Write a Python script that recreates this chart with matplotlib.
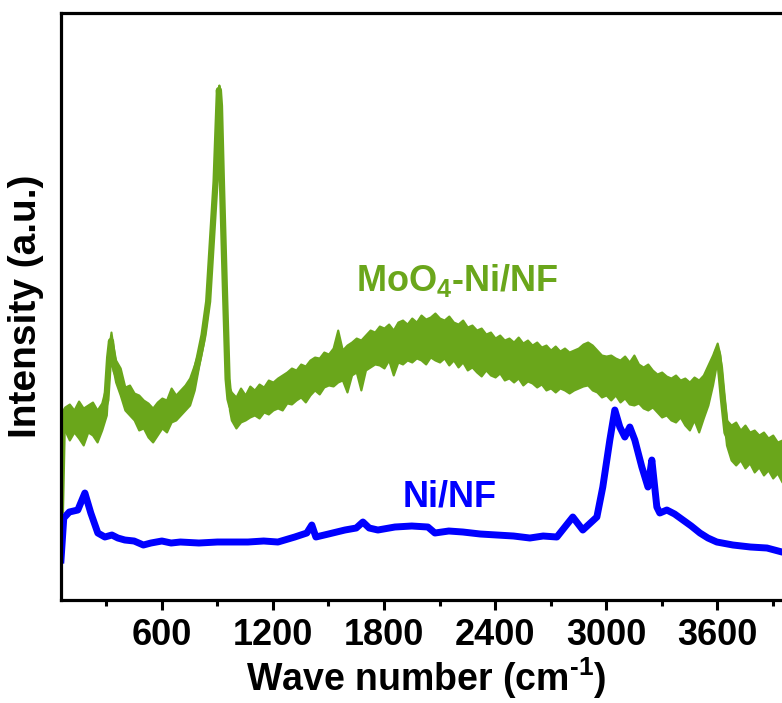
import matplotlib.pyplot as plt
import numpy as np

plt.rcParams['font.family'] = ['Liberation Sans', 'DejaVu Sans']
plt.rcParams['font.weight'] = 'bold'
plt.rcParams['mathtext.fontset'] = 'custom'
plt.rcParams['mathtext.rm'] = 'Liberation Sans:bold'
plt.rcParams['mathtext.bf'] = 'Liberation Sans:bold'
plt.rcParams['mathtext.default'] = 'rm'

GREEN = '#6aa61b'
BLUE = '#0000ff'

# Ni/NF spectrum (wave number, intensity in a.u.)
ni_wn = [55, 70, 100, 146, 184, 216, 254, 292, 330, 362, 400, 450, 500, 541,
         600, 650, 700, 800, 900, 1000, 1065, 1150, 1227, 1318, 1383, 1410,
         1432, 1500, 1589, 1650, 1686, 1720, 1767, 1859, 1950, 2037, 2075,
         2150, 2226, 2320, 2410, 2500, 2588, 2660, 2734, 2820, 2874, 2950,
         2982, 3020, 3047, 3074, 3101, 3128, 3155, 3193, 3226, 3247, 3274,
         3290, 3328, 3370, 3415, 3460, 3507, 3550, 3598, 3685, 3780, 3869,
         3950, 3995]
ni_int = [40, 82, 88, 90, 107, 87, 67, 63, 65, 62, 60, 59, 55, 57,
          59, 57, 58, 57, 58, 58, 58, 59, 58, 63, 67, 75,
          63, 66, 70, 72, 78, 72, 70, 73, 74, 73, 67,
          69, 68, 66, 65, 64, 62, 64, 63, 83, 70, 83,
          113, 160, 190, 173, 163, 173, 160, 133, 113, 140, 93,
          87, 90, 86, 80, 74, 67, 62, 58, 55, 53, 52,
          48, 47]

# MoO4-Ni/NF spectrum: upper and lower edge of the noise band
mo_wn = [55, 65, 75, 100, 125, 150, 175, 200, 225, 250, 275, 300, 315, 325,
         335, 350, 375, 400, 425, 450, 475, 500, 525, 550, 575, 600, 625, 650,
         675, 700, 725, 750, 775, 800, 825, 850, 870, 890, 903, 908, 914, 925,
         940, 955, 965, 975, 1000, 1025, 1050, 1075, 1100, 1125, 1150, 1175,
         1200, 1225, 1250, 1275, 1300, 1325, 1350, 1375, 1400, 1425, 1450,
         1475, 1500, 1525, 1550, 1575, 1600, 1625, 1650, 1675, 1700, 1725,
         1750, 1775, 1800, 1825, 1850, 1875, 1900, 1925, 1950, 1975, 2000,
         2025, 2050, 2075, 2100, 2125, 2150, 2175, 2200, 2225, 2250, 2275,
         2300, 2325, 2350, 2375, 2400, 2425, 2450, 2475, 2500, 2525, 2550,
         2575, 2600, 2625, 2650, 2675, 2700, 2725, 2750, 2775, 2800, 2825,
         2850, 2875, 2900, 2925, 2950, 2975, 3000, 3025, 3050, 3075, 3100,
         3125, 3150, 3175, 3200, 3225, 3250, 3275, 3300, 3325, 3350, 3375,
         3400, 3425, 3450, 3475, 3500, 3525, 3550, 3575, 3600, 3615, 3630,
         3650, 3675, 3700, 3725, 3750, 3775, 3800, 3825, 3850, 3875, 3900,
         3925, 3950, 3975, 3995]
mo_top = [95, 190, 193, 196, 190, 199, 192, 195, 198, 190, 197, 215, 255, 268,
          255, 240, 232, 213, 215, 207, 205, 200, 197, 192, 198, 202, 200, 212,
          205, 210, 215, 222, 235, 250, 272, 305, 365, 425, 490, 515, 500, 420,
          320, 230, 212, 208, 203, 212, 205, 214, 210, 216, 213, 220,
          218, 222, 225, 228, 232, 230, 236, 234, 240, 243, 242,
          248, 246, 252, 270, 250, 255, 258, 262, 260, 265, 270,
          268, 274, 272, 276, 270, 278, 280, 276, 282, 278, 285,
          281, 283, 287, 282, 280, 284, 278, 276, 280, 273, 275,
          270, 272, 266, 268, 262, 265, 260, 262, 258, 263, 257,
          260, 255, 258, 253, 255, 250, 254, 249, 252, 248, 250,
          252, 256, 258, 255, 250, 245, 244, 245, 242, 240, 244,
          238, 245, 236, 233, 236, 230, 226, 228, 224, 222, 225,
          220, 222, 218, 223, 220, 225, 235, 245, 257, 245, 215,
          180, 175, 178, 170, 175, 168, 170, 165, 168, 162, 165,
          158, 160, 155, 157]
mo_bot = [85, 165, 170, 160, 168, 162, 155, 168, 165, 158, 170, 185, 230, 250,
          232, 218, 205, 190, 185, 180, 170, 172, 163, 158, 165, 172, 168, 178,
          180, 185, 190, 195, 210, 235, 258, 292, 352, 412, 478, 505, 488, 408,
          308, 212, 190, 180, 172, 178, 180, 183, 185, 182, 188, 186,
          190, 192, 190, 197, 196, 200, 203, 198, 205, 210, 206,
          213, 215, 214, 218, 220, 208, 225, 228, 210, 230, 233,
          236, 235, 232, 240, 225, 238, 236, 240, 238, 242, 240,
          236, 243, 240, 238, 242, 235, 240, 233, 238, 230, 233,
          228, 224, 230, 225, 223, 227, 220, 222, 218, 222, 215,
          219, 217, 213, 216, 210, 212, 208, 212, 210, 207, 210,
          212, 214, 215, 210, 208, 203, 205, 200, 205, 198, 202,
          196, 195, 197, 192, 190, 193, 188, 183, 185, 180, 178,
          183, 175, 170, 180, 168, 182, 195, 215, 240, 220, 190,
          155, 140, 135, 140, 132, 137, 128, 133, 125, 130, 122,
          127, 118, 123, 120]

mo_wn = np.array(mo_wn)
mo_top = np.array(mo_top)
mo_bot = np.array(mo_bot)

fig = plt.figure(figsize=(7.82, 7.03), dpi=100)
ax = fig.add_axes([0.078, 0.1465, 0.9338, 0.835])

ax.fill_between(mo_wn, mo_bot, mo_top, color=GREEN, lw=1.5)
ax.plot(mo_wn, (mo_top + mo_bot) / 2, color=GREEN, lw=4.5)
ax.plot(ni_wn, ni_int, color=BLUE, lw=5, solid_joinstyle='round')

ax.text(2194, 320, r'MoO$_4$-Ni/NF', color=GREEN, fontsize=26,
        fontweight='bold', ha='center', va='center')
ax.text(2156, 103, 'Ni/NF', color=BLUE, fontsize=26,
        fontweight='bold', ha='center', va='center')

ax.set_xlim(55, 4000)
ax.set_ylim(0, 587)
ax.set_xticks(np.arange(600, 3601, 600))
ax.set_xticks(np.arange(300, 4000, 600), minor=True)
ax.set_yticks([])
ax.tick_params(axis='x', which='major', length=7, width=2.2, labelsize=26, pad=6)
ax.tick_params(axis='x', which='minor', length=4, width=2.2)
for s in ax.spines.values():
    s.set_linewidth(2.3)

ax.set_xlabel(r'Wave number (cm$^{\text{-}1}$)', fontsize=27, fontweight='bold', labelpad=2)
ax.set_ylabel('Intensity (a.u.)', fontsize=28, fontweight='bold', labelpad=12)

fig.savefig('out.png', dpi=100)
